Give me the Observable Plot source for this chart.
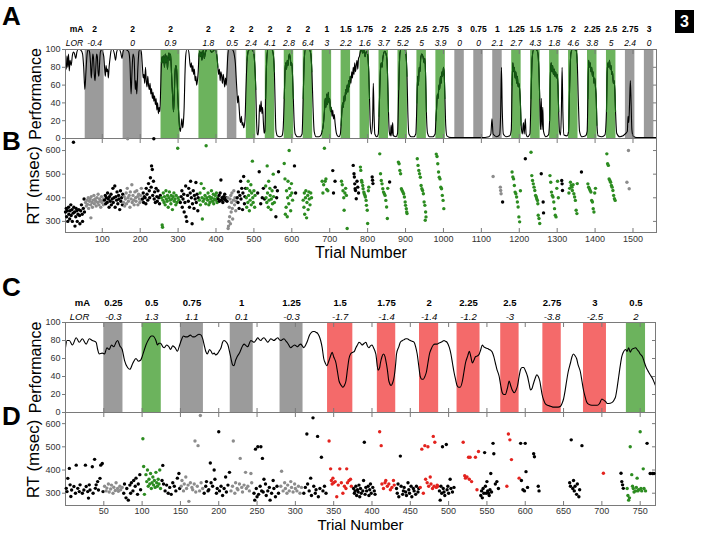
<!DOCTYPE html>
<html><head><meta charset="utf-8">
<script src="https://cdn.jsdelivr.net/npm/d3@7"></script>
<script src="https://cdn.jsdelivr.net/npm/@observablehq/plot@0.6"></script>
<style>
body{margin:0;background:#fff;}
#wrap{position:relative;width:701px;height:535px;overflow:hidden;font-family:"Liberation Sans",Arial,Helvetica,sans-serif;}
.pl{position:absolute;left:0;}
.lab{position:absolute;left:2px;font-weight:bold;font-size:26px;line-height:26px;color:#000;}
#badge{position:absolute;left:675px;top:10px;width:19px;height:23px;background:#000;color:#fff;font-weight:bold;font-size:16px;text-align:center;line-height:23px;}
</style></head><body>
<div id="wrap">
  <div class="pl" id="pA" style="top:0px"></div>
  <div class="pl" id="pB" style="top:138px"></div>
  <div class="pl" id="pC" style="top:275px"></div>
  <div class="pl" id="pD" style="top:412px"></div>
  <div class="lab" style="top:3px">A</div>
  <div class="lab" style="top:128px">B</div>
  <div class="lab" style="top:274px">C</div>
  <div class="lab" style="top:403px">D</div>
  <div id="badge">3</div>
</div>
<script>
// ---------- Experiment 1 (panels A, B) ----------
const blockStartA = [55,155,255,355,430,480,530,580,630,680,730,780,830,880,930,980,1030,1080,1130,1180,1230,1280,1330,1380,1430,1480,1530];
const blockEndA   = [105,205,305,405,455,505,555,605,655,705,755,805,855,905,955,1005,1055,1105,1155,1205,1255,1305,1355,1405,1455,1505,1555];
const blockTypeA  = ["gray","gray","green","green","gray","green","green","green","green","green","green","green","green","green","green","green","gray","gray","gray","green","green","green","green","green","green","gray","gray"];
const mAA  = ["2","2","2","2","2","2","2","2","2","1","1.5","1.75","2","2.25","2.5","2.75","3","0.75","1","1.25","1.5","1.75","2","2.25","2.5","2.75","3"];
const lorA = ["-0.4","0","0.9","1.8","0.5","2.4","4.1","2.8","6.4","3","2.2","1.6","3.7","5.2","5","3.9","0","0","2.1","2.7","4.3","1.8","4.6","3.8","5","2.4","0"];
const xTicksA = [100,200,300,400,500,600,700,800,900,1000,1100,1200,1300,1400,1500];

const perfA = [[3,85],[5,78],[7,93],[9,80],[11,95],[13,76],[15,88],[18,82],[21,93],[24,97],[27,95],[30,90],[33,97],[36,100],[40,100],[44,99],[48,95],[51,80],[54,55],[57,75],[60,95],[63,100],[66,98],[69,85],[71,68],[73,80],[75,95],[77,90],[79,72],[81,65],[83,80],[85,95],[87,92],[89,75],[91,70],[93,85],[95,97],[98,100],[101,97],[104,92],[106,80],[108,70],[110,82],[112,75],[114,78],[116,68],[118,80],[121,92],[124,100],[128,100],[132,95],[135,88],[138,97],[141,100],[145,100],[149,96],[152,90],[155,98],[158,100],[162,100],[166,99],[170,97],[173,85],[176,50],[178,70],[181,95],[184,90],[187,55],[189,65],[191,50],[194,80],[197,98],[200,100],[203,97],[206,80],[208,68],[210,72],[212,62],[214,80],[216,65],[218,58],[220,70],[222,60],[224,55],[226,62],[228,50],[230,56],[232,45],[234,52],[236,42],[238,48],[240,38],[242,45],[244,32],[246,40],[248,28],[250,35],[252,30],[254,55],[256,85],[258,92],[260,85],[262,93],[264,80],[266,95],[268,85],[270,93],[272,78],[274,92],[276,96],[278,88],[280,95],[282,80],[284,60],[286,45],[288,30],[290,50],[292,75],[294,82],[296,78],[298,60],[300,40],[302,25],[304,12],[306,8],[308,15],[310,22],[312,12],[314,18],[316,35],[318,70],[320,92],[323,100],[326,100],[329,95],[331,85],[333,80],[335,85],[337,75],[339,82],[341,72],[343,78],[345,65],[347,70],[349,60],[351,65],[353,75],[355,92],[357,98],[359,92],[361,97],[363,88],[365,97],[367,99],[369,90],[371,94],[373,98],[376,100],[380,100],[384,100],[388,97],[392,98],[396,100],[400,98],[403,90],[405,80],[407,72],[409,78],[411,65],[413,75],[415,70],[417,62],[419,72],[421,66],[423,58],[425,68],[427,60],[429,75],[431,92],[434,100],[438,100],[442,100],[446,98],[449,92],[451,85],[453,70],[455,55],[457,40],[459,48],[461,35],[463,22],[465,18],[467,25],[469,15],[471,18],[473,12],[475,15],[477,25],[479,55],[482,88],[485,98],[489,100],[494,100],[499,97],[502,85],[505,55],[507,20],[509,5],[511,4],[513,15],[515,38],[517,30],[519,42],[521,28],[523,35],[525,18],[527,6],[529,8],[531,45],[534,90],[537,100],[542,100],[547,100],[551,95],[554,75],[556,40],[558,10],[562,3],[568,2],[574,3],[577,10],[580,45],[582,75],[584,85],[586,78],[588,88],[590,82],[592,92],[594,95],[596,90],[598,82],[600,85],[602,70],[604,45],[606,20],[609,5],[615,2],[622,2],[627,5],[630,45],[633,90],[636,100],[641,100],[646,100],[650,95],[653,75],[656,35],[659,8],[664,2],[672,2],[677,4],[680,8],[683,15],[686,30],[688,45],[690,35],[692,50],[694,38],[696,52],[698,40],[700,45],[702,30],[704,35],[706,25],[708,32],[710,22],[712,27],[714,18],[716,10],[719,4],[724,2],[728,5],[730,15],[732,30],[734,40],[736,35],[738,48],[740,42],[742,55],[744,50],[746,60],[748,52],[750,65],[752,58],[754,70],[756,62],[758,75],[760,68],[762,80],[764,72],[766,85],[768,75],[770,82],[772,88],[774,78],[776,90],[778,92],[781,98],[784,100],[787,96],[790,100],[793,92],[796,97],[799,98],[801,90],[803,75],[805,45],[807,15],[810,5],[813,20],[815,62],[817,25],[819,5],[824,2],[828,5],[830,25],[832,55],[834,78],[836,85],[838,80],[840,90],[842,95],[845,98],[848,96],[851,88],[853,65],[855,30],[857,8],[860,3],[862,15],[864,3],[866,18],[868,3],[875,2],[879,6],[882,55],[885,95],[888,100],[893,100],[898,100],[901,95],[904,70],[906,30],[909,5],[915,2],[922,2],[927,5],[930,40],[932,70],[934,60],[936,80],[938,75],[940,90],[943,95],[946,92],[949,85],[951,90],[953,70],[955,30],[958,6],[963,2],[972,2],[978,5],[980,20],[982,35],[984,50],[986,45],[988,60],[990,55],[992,70],[994,62],[996,75],[998,70],[1000,80],[1002,72],[1004,45],[1006,15],[1009,3],[1020,1],[1050,1],[1080,1],[1100,1],[1120,2],[1125,5],[1128,22],[1131,5],[1140,2],[1148,4],[1151,30],[1153,80],[1155,35],[1158,5],[1165,2],[1175,3],[1179,10],[1181,60],[1183,85],[1185,75],[1187,80],[1189,68],[1191,75],[1193,62],[1195,70],[1197,58],[1199,62],[1201,55],[1203,40],[1205,15],[1208,5],[1211,18],[1213,5],[1216,22],[1218,5],[1222,2],[1228,5],[1231,45],[1234,90],[1238,100],[1243,100],[1248,98],[1251,85],[1254,45],[1256,10],[1258,45],[1260,10],[1262,35],[1264,8],[1270,2],[1277,4],[1280,20],[1282,70],[1284,85],[1286,75],[1288,82],[1290,72],[1292,78],[1294,70],[1296,75],[1298,68],[1300,72],[1302,60],[1304,30],[1306,8],[1309,4],[1311,30],[1313,80],[1315,30],[1318,4],[1326,3],[1330,8],[1333,60],[1336,95],[1340,100],[1345,100],[1350,99],[1353,85],[1356,40],[1359,8],[1365,2],[1375,3],[1379,8],[1381,45],[1383,88],[1385,80],[1387,85],[1389,75],[1391,80],[1393,70],[1395,75],[1397,62],[1399,68],[1401,58],[1403,45],[1405,15],[1408,3],[1418,2],[1426,4],[1430,30],[1432,75],[1434,85],[1436,80],[1438,88],[1440,78],[1442,82],[1444,72],[1446,75],[1448,62],[1450,65],[1452,55],[1454,30],[1457,6],[1465,2],[1474,3],[1479,5],[1485,8],[1487,25],[1489,18],[1491,40],[1493,65],[1495,40],[1497,10],[1500,3],[1510,1],[1560,1]];

const rtB = [
[3,340],[5,355],[6,320],[8,345],[9,300],[11,360],[12,330],[14,310],[15,345],[17,370],[18,325],[20,350],[21,300],[23,335],[24,635],[25,360],[27,340],[28,280],[30,320],[31,355],[33,345],[34,300],[36,330],[38,350],[40,325],[41,290],[43,345],[45,370],[47,330],[48,300],[50,355],[52,395],[53,340],
[56,380],[58,365],[60,390],[61,372],[63,400],[64,355],[66,385],[68,395],[69,370],[70,315],[71,405],[73,380],[74,360],[76,390],[78,410],[79,375],[81,395],[83,385],[84,365],[86,400],[88,380],[89,415],[91,370],[93,395],[94,385],[96,360],[98,405],[99,380],[101,390],[103,370],[104,395],
[106,390],[108,410],[109,375],[111,400],[113,380],[114,420],[116,395],[118,360],[119,405],[121,385],[123,415],[124,370],[126,395],[128,440],[129,380],[131,400],[133,450],[134,360],[136,405],[138,390],[139,425],[141,375],[143,410],[144,395],[146,350],[148,430],[149,385],[151,400],[153,370],[154,415],
[156,380],[158,405],[159,365],[161,395],[163,420],[164,375],[166,440],[167,650],[168,400],[169,385],[171,410],[173,360],[174,425],[176,395],[178,455],[179,380],[181,410],[183,390],[184,370],[186,425],[188,400],[189,385],[191,430],[193,405],[194,370],[196,415],[198,395],[199,380],[201,410],[203,440],[204,390],
[206,395],[208,420],[209,380],[211,405],[213,400],[215,375],[216,440],[218,415],[220,390],[222,460],[224,430],[225,400],[227,485],[229,445],[230,535],[232,520],[233,410],[235,470],[236,650],[237,395],[238,425],[240,380],[242,440],[244,405],[245,385],[247,430],[249,400],[251,375],[253,410],
[256,400],[258,285],[259,275],[260,390],[261,420],[263,380],[264,405],[266,370],[268,430],[269,395],[271,385],[272,410],[274,360],[276,400],[277,425],[279,390],[281,375],[282,410],[284,395],[285,350],[287,405],[289,420],[290,385],[292,395],[294,370],[295,410],[297,380],[299,610],[300,400],[302,390],
[306,380],[308,405],[310,430],[311,360],[313,395],[315,415],[316,340],[318,380],[320,450],[321,320],[323,300],[325,410],[327,385],[328,440],[330,360],[332,420],[333,470],[335,400],[337,290],[338,375],[340,430],[342,355],[343,410],[345,395],[347,465],[348,380],[350,415],[352,345],[353,400],
[356,390],[358,420],[359,370],[361,460],[363,400],[364,310],[366,385],[368,440],[369,395],[371,410],[373,375],[374,620],[376,400],[378,390],[379,420],[381,370],[383,405],[384,380],[386,395],[388,430],[389,400],[391,385],[393,415],[394,375],[396,395],[398,410],[399,390],[401,420],[403,380],[404,400],
[406,395],[408,410],[409,385],[411,420],[413,475],[414,390],[416,400],[418,380],[420,405],[421,395],[423,415],[425,390],[427,400],[429,385],
[431,400],[432,270],[433,280],[434,300],[435,360],[436,320],[437,395],[438,290],[439,410],[440,340],[441,380],[442,420],[443,355],[444,310],[446,390],[447,430],[449,370],[450,400],[452,345],[453,385],
[456,400],[458,380],[459,425],[461,355],[463,410],[465,470],[466,395],[468,440],[470,350],[471,420],[473,490],[475,375],[476,405],[478,440],
[480,400],[481,360],[482,440],[484,380],[485,470],[486,410],[488,345],[489,430],[490,390],[492,455],[493,370],[494,420],[496,555],[497,400],[498,380],[500,430],[502,360],[503,410],
[510,420],[514,510],[518,375],[522,400],[525,440],[528,395],
[531,450],[532,400],[534,380],[535,535],[536,420],[538,360],[539,470],[540,390],[542,440],[543,410],[545,350],[546,395],[548,430],[549,375],[551,500],[552,405],[554,380],
[556,445],[558,320],[560,400],[562,430],[565,510],
[580,545],[582,480],[583,330],[585,360],[586,430],[588,320],[589,400],[590,470],[592,375],[593,600],[594,440],[596,410],[597,345],[599,460],[600,420],[602,390],
[607,535],[610,420],
[630,390],[632,360],[633,420],[634,330],[636,400],[637,430],[639,315],[640,380],[642,410],[643,350],[645,425],[646,395],[648,370],[650,420],[652,400],
[680,470],[682,420],[684,455],[686,610],[688,470],[690,480],[692,435],[695,430],
[708,515],[710,420],[714,470],
[731,470],[733,455],[735,430],[737,400],[738,347],[740,420],[742,440],[744,410],[746,270],
[762,537],[764,502],[765,488],[766,459],[767,438],[768,431],[770,396],[772,470],[774,445],[776,420],
[781,530],[782,516],[784,473],[785,466],[787,452],[788,438],[790,424],[791,417],[793,410],[794,403],[796,389],[797,368],[799,347],[800,291],[802,430],[803,445],
[812,488],[813,474],[814,460],
[832,586],[834,502],[836,473],[838,459],[840,438],[842,424],[844,417],[846,410],[848,389],[850,361],[852,312],[853,440],
[858,467],
[881,551],[883,544],[885,516],[887,502],[889,438],[891,431],[893,424],[895,417],[897,403],[899,382],[900,368],[902,354],[903,340],[904,333],
[931,565],[933,537],[935,516],[937,502],[939,487],[941,452],[943,438],[945,431],[947,417],[949,382],[951,368],[952,305],[953,340],[954,319],
[981,585],[983,575],[985,544],[987,509],[989,487],[991,480],[993,445],[995,438],[997,410],[999,389],[1001,354],
[1131,490],[1150,445],[1151,431],[1152,417],[1156,382],
[1181,509],[1183,488],[1185,480],[1187,452],[1189,424],[1191,417],[1193,403],[1195,382],[1197,361],[1199,319],[1201,298],[1203,430],
[1216,565],
[1231,593],[1233,494],[1235,473],[1237,459],[1239,445],[1241,431],[1243,410],[1245,403],[1246,396],[1248,389],[1249,375],[1250,326],[1252,312],[1254,291],
[1258,502],[1263,382],[1264,336],
[1281,494],[1283,466],[1285,424],[1287,410],[1289,403],[1291,382],[1293,354],[1295,326],[1297,319],[1299,440],[1301,470],[1303,400],
[1312,473],[1313,459],[1314,431],
[1331,420],[1333,440],[1335,466],[1337,452],[1339,445],[1340,431],[1342,455],[1344,417],[1346,403],[1348,389],[1350,347],[1352,333],[1353,460],
[1364,509],
[1381,459],[1383,445],[1385,438],[1387,431],[1389,424],[1391,389],[1393,382],[1395,354],[1397,340],[1399,420],[1401,440],
[1431,586],[1433,544],[1435,537],[1437,480],[1439,473],[1441,466],[1443,452],[1445,445],[1447,431],[1449,410],[1451,396],[1453,389],
[1484,466],[1488,600],[1490,438]
];

// ---------- Experiment 2 (panels C, D) ----------
const blockStartC = [50,100,150,215,280,342,407,462,511,568,623,676,732];
const blockEndC   = [75,125,180,245,310,375,431,487,541,592,647,706,757];
const blockTypeC  = ["gray","green","gray","gray","gray","red","red","red","red","red","red","red","green"];
const mAC  = ["0.25","0.5","0.75","1","1.25","1.5","1.75","2","2.25","2.5","2.75","3","0.5"];
const lorC = ["-0.3","1.3","1.1","0.1","-0.3","-1.7","-1.4","-1.4","-1.2","-3","-3.8","-2.5","2"];
const xTicksC = [50,100,150,200,250,300,350,400,450,500,550,600,650,700,750];

const perfC = [[0,72],[2,80],[5,80],[9,75],[14,83],[18,78],[22,82],[27,76],[31,82],[35,80],[40,78],[42,70],[44,65],[48,66],[51,65],[54,72],[57,70],[60,75],[63,73],[66,78],[68,80],[71,74],[74,70],[77,58],[81,50],[84,48],[88,55],[92,60],[95,57],[98,58],[100,62],[103,70],[105,75],[109,82],[112,85],[114,85],[118,80],[120,75],[122,77],[124,77],[127,73],[129,72],[132,75],[135,73],[137,70],[140,74],[143,72],[146,68],[149,75],[151,80],[154,85],[157,84],[159,84],[163,86],[166,84],[168,84],[172,86],[174,87],[177,86],[179,82],[181,75],[183,68],[185,65],[188,70],[190,68],[192,65],[194,66],[196,64],[198,65],[201,69],[203,72],[205,78],[207,80],[210,78],[212,75],[214,68],[216,60],[218,53],[220,52],[222,58],[224,62],[227,66],[229,70],[231,74],[233,76],[236,74],[238,73],[240,77],[242,80],[244,79],[246,78],[249,81],[251,83],[253,81],[255,80],[257,82],[259,83],[262,80],[264,78],[266,80],[268,82],[270,81],[272,80],[275,82],[277,83],[279,81],[281,80],[283,81],[285,82],[288,79],[290,77],[292,74],[294,72],[297,74],[299,75],[301,74],[303,73],[305,75],[307,76],[309,74],[311,72],[314,76],[316,80],[318,85],[320,88],[323,90],[325,90],[327,89],[329,88],[331,85],[333,80],[335,72],[337,60],[339,55],[341,52],[344,58],[346,63],[348,67],[350,62],[353,55],[355,45],[357,35],[360,30],[362,28],[364,30],[366,35],[368,48],[370,60],[372,65],[375,67],[377,68],[379,72],[381,75],[383,78],[385,77],[387,75],[390,77],[392,78],[394,74],[396,72],[398,74],[400,75],[402,72],[405,65],[408,47],[410,50],[411,55],[413,62],[415,65],[417,62],[418,58],[420,48],[422,35],[425,30],[427,33],[429,40],[431,55],[432,65],[435,73],[437,78],[440,80],[442,81],[444,82],[446,82],[448,81],[450,80],[453,79],[455,78],[457,73],[459,65],[461,52],[463,40],[465,37],[467,37],[469,40],[471,45],[473,55],[475,65],[477,70],[480,75],[482,76],[485,76],[487,77],[490,78],[492,79],[494,80],[496,79],[498,78],[501,72],[503,65],[505,55],[507,45],[509,37],[511,30],[513,28],[515,28],[518,35],[520,45],[522,55],[525,63],[527,68],[529,62],[531,55],[533,58],[535,62],[538,63],[540,65],[542,70],[544,75],[546,73],[548,72],[551,71],[553,70],[555,69],[557,67],[559,62],[561,55],[563,48],[566,40],[568,30],[570,22],[572,20],[574,20],[577,28],[579,35],[581,30],[583,25],[586,22],[588,25],[590,30],[592,40],[594,48],[596,50],[598,50],[600,47],[603,40],[605,32],[607,25],[609,27],[610,30],[613,38],[615,42],[617,40],[619,35],[621,25],[622,20],[624,14],[626,10],[629,8],[633,7],[636,6],[639,6],[643,6],[646,7],[648,10],[650,15],[652,24],[654,35],[656,45],[659,55],[661,62],[663,65],[665,63],[667,60],[669,53],[672,45],[674,35],[676,25],[678,18],[680,12],[683,9],[687,8],[690,8],[694,8],[697,10],[700,15],[702,14],[705,12],[707,10],[709,10],[713,11],[716,14],[718,18],[720,28],[722,40],[724,52],[726,62],[728,67],[731,70],[733,68],[735,72],[737,67],[739,70],[741,71],[744,72],[746,70],[748,68],[750,65],[753,62],[755,57],[757,52],[759,48],[761,45],[763,42],[766,38],[768,34],[770,30]];

const rtD = [
[1,321],[2,307],[3,364],[5,407],[6,336],[7,286],[8,314],[11,329],[13,300],[14,421],[16,321],[18,307],[19,336],[22,300],[24,314],[26,421],[27,329],[29,307],[30,279],[31,336],[32,314],[35,414],[36,300],[38,446],[39,321],[40,336],[42,350],[43,314],[45,364],[46,421],[48,428],[49,307],
[51,330],[53,310],[54,322],[56,340],[57,305],[59,318],[60,335],[62,300],[63,326],[65,312],[66,345],[68,320],[69,308],[71,330],[72,315],[74,325],
[76,300],[77,340],[79,280],[80,320],[82,270],[84,335],[85,300],[86,345],[88,310],[89,355],[91,330],[92,365],[94,295],[95,340],[97,380],[98,315],
[101,535],[102,415],[103,295],[105,380],[106,350],[107,400],[108,330],[109,360],[110,340],[111,385],[112,320],[113,345],[114,370],[115,335],[116,355],[117,325],[118,390],[119,345],[120,330],[121,360],[122,340],[123,400],[124,320],
[126,355],[127,420],[128,340],[130,310],[132,335],[134,300],[136,325],[138,295],[140,345],[142,330],[144,310],[146,365],[148,385],[149,320],
[151,330],[152,355],[154,310],[155,340],[157,370],[158,320],[160,335],[161,265],[163,345],[165,325],[166,315],[168,340],[169,525],[170,305],[172,330],[173,505],[175,310],[176,635],[177,345],[179,320],
[181,300],[183,330],[184,350],[186,310],[187,315],[189,430],[190,345],[192,330],[194,400],[195,360],[197,300],[198,320],[200,565],[201,310],[203,330],[205,290],[207,320],[209,370],[210,305],[212,335],[214,390],
[216,310],[218,330],[219,525],[221,300],[222,345],[224,320],[225,315],[227,340],[228,450],[230,325],[231,305],[233,335],[235,390],[236,320],[238,330],[240,310],[242,385],[243,345],
[246,300],[247,270],[248,490],[249,320],[250,285],[251,500],[252,295],[254,330],[255,500],[256,310],[257,450],[258,305],[259,360],[261,340],[262,290],[264,310],[266,325],[267,270],[269,300],[271,355],[272,320],[274,285],[276,330],[278,300],
[281,330],[282,395],[284,310],[286,345],[287,320],[289,300],[290,335],[292,310],[294,350],[295,325],[297,305],[299,340],[300,320],[302,310],[304,330],[306,300],[308,325],
[311,300],[313,325],[315,555],[316,340],[318,310],[320,365],[321,290],[323,625],[324,330],[326,300],[327,315],[329,545],[330,285],[332,320],[334,455],[336,310],[338,330],[340,300],
[344,525],[346,405],[347,355],[348,340],[349,365],[350,345],[352,350],[354,285],[356,335],[358,405],[360,345],[362,300],[364,330],[366,320],[367,405],[368,345],[370,355],[372,360],[373,330],
[376,320],[377,300],[378,310],[379,330],[380,290],[381,315],[382,305],[383,335],[384,285],[385,320],[386,300],[388,310],[389,355],[390,520],[391,295],[392,325],[393,310],[395,330],[396,290],[397,315],[398,340],[399,300],[401,325],[403,310],[404,295],
[410,565],[412,505],[413,340],[415,320],[417,345],[418,355],[420,330],[422,340],[424,315],[426,325],[428,355],[429,335],
[432,320],[433,300],[434,340],[435,285],[437,460],[438,330],[440,295],[441,310],[442,325],[444,305],[445,290],[447,345],[448,315],[449,300],[451,330],[452,285],[454,320],[455,310],[457,295],[458,330],[460,305],[461,320],
[463,325],[465,490],[467,300],[469,505],[470,360],[472,345],[473,500],[474,330],[476,370],[477,340],[479,320],[480,545],[481,330],[482,520],[484,325],[485,335],[486,330],
[488,310],[489,270],[490,330],[491,300],[492,500],[493,320],[494,305],[495,290],[497,510],[498,315],[499,330],[500,300],[502,360],[503,320],[505,305],[507,325],
[519,520],[521,375],[522,365],[524,370],[526,455],[527,360],[528,455],[530,350],[535,455],[537,315],[539,480],
[542,290],[543,310],[544,280],[545,320],[546,300],[547,475],[548,330],[549,300],[550,350],[551,310],[552,300],[553,290],[554,315],[555,385],[556,305],[558,515],[559,470],[561,340],[563,350],[565,320],
[576,330],[578,555],[580,530],[582,445],
[592,365],[594,515],[595,355],[597,315],[599,310],[600,515],[601,393],[603,325],[611,470],[612,457],[617,330],[618,310],
[658,345],[659,330],[660,530],[662,320],[663,355],[664,310],[665,330],[667,295],[668,340],[670,285],[671,315],[674,505],
[702,386],
[725,386],[726,350],[727,336],[728,321],
[733,320],[734,290],[735,270],[736,280],[737,500],[739,380],[740,330],[741,320],[742,305],[744,310],[745,325],[746,365],[747,310],[748,315],[750,565],[751,320],[752,310],[754,405],[755,320],
[757,310],[759,515],[763,385],[766,385],[768,385]
];

// ---------- helpers ----------
const FONT = '"Liberation Sans", Arial, Helvetica, sans-serif';
const fillOf = {gray:"#9b9b9b", green:"#6cb35d", red:"#f46a6a"};
const dotOf = {gray:"#8c8c8c", green:"#2c8c20", red:"#e3231e"};
const AX = "#7a7a7a";
const plain = d => String(d);

function makeBlocks(starts, ends, types, ma, lor) {
  return starts.map((s, i) => ({x1: s, x2: ends[i], type: types[i], mid: (s + ends[i]) / 2, ma: ma[i], lor: lor[i]}));
}
function typeAt(blocks, t) {
  const b = blocks.find(b => t >= b.x1 && t <= b.x2);
  return b ? b.type : null;
}
const styleObj = {background: "transparent", fontFamily: FONT, fontSize: "9px", color: "#333", overflow: "visible"};

function edgeTicks(ticks) {
  return [
    Plot.axisX({anchor: "top", ticks, tickSize: -4, tickFormat: () => "", stroke: AX, label: null}),
    Plot.axisX({anchor: "bottom", ticks, tickSize: -4, tickFormat: () => "", stroke: AX, label: null})
  ];
}
function yAxes(ticks) {
  return [
    Plot.axisY({anchor: "left", ticks, tickSize: 3, tickPadding: 2, stroke: AX, label: null, fontSize: 9, tickFormat: plain}),
    Plot.axisY({anchor: "right", ticks, tickSize: -4, tickFormat: () => "", stroke: AX, label: null})
  ];
}

function perfPlot({blocks, perf, xDomain, xTicks, marginRight, height, marginTop, dyMa, dyLor, mAdx, lorDx, hdrSize, greenLine}) {
  const marks = [
    Plot.rect(blocks, {x1: "x1", x2: "x2", fill: d => fillOf[d.type]}),
    Plot.line(perf, {x: d => d[0], y: d => d[1], stroke: "#000", strokeWidth: 1.1, curve: "monotone-x"})
  ];
  if (greenLine) {
    marks.push(Plot.line(perf, {x: d => d[0], y: d => typeAt(blocks, d[0]) === "green" ? d[1] : NaN, stroke: "#135b12", strokeWidth: 1.1, curve: "monotone-x"}));
  }
  marks.push(
    Plot.frame({stroke: AX}),
    ...yAxes([0, 20, 40, 60, 80, 100]),
    ...edgeTicks(xTicks),
    Plot.text(blocks, {x: "mid", text: "ma", frameAnchor: "top", dy: dyMa, fontWeight: "bold", fontSize: hdrSize, fill: "#000"}),
    Plot.text(blocks, {x: "mid", text: "lor", frameAnchor: "top", dy: dyLor, fontStyle: "italic", fontSize: hdrSize, fill: "#000"}),
    Plot.text(["mA"], {text: d => d, frameAnchor: "top-left", dx: mAdx, dy: dyMa, textAnchor: "middle", fontWeight: "bold", fontSize: hdrSize, fill: "#000"}),
    Plot.text(["LOR"], {text: d => d, frameAnchor: "top-left", dx: lorDx, dy: dyLor, textAnchor: "middle", fontStyle: "italic", fontSize: hdrSize, fill: "#000"}),
    Plot.text(["Performance"], {text: d => d, frameAnchor: "left", dx: -30, rotate: -90, textAnchor: "middle", fontSize: 16, fill: "#000"})
  );
  return Plot.plot({
    width: 701, height, marginLeft: 65, marginRight, marginTop, marginBottom: 2,
    x: {domain: xDomain}, y: {domain: [0, 100]}, color: {type: "identity"},
    style: styleObj, marks
  });
}

function rtPlot({blocks, rt, xDomain, yDomain, xTicks, marginRight, height, marginBottom, labelDy, labelSize, tickPad}) {
  return Plot.plot({
    width: 701, height, marginLeft: 65, marginRight, marginTop: 0, marginBottom,
    x: {domain: xDomain}, y: {domain: yDomain}, color: {type: "identity"},
    style: styleObj,
    marks: [
      Plot.frame({stroke: AX}),
      Plot.dot(rt, {x: d => d[0], y: d => d[1], r: 1.7, stroke: null, fill: d => { const t = typeAt(blocks, d[0]); return t ? dotOf[t] : "#000"; }}),
      ...yAxes([300, 400, 500, 600]),
      ...edgeTicks(xTicks),
      Plot.axisX({anchor: "bottom", ticks: xTicks, tickSize: 0, tickPadding: tickPad, label: null, fontSize: 9, tickFormat: plain}),
      Plot.text(["RT (msec)"], {text: d => d, frameAnchor: "left", dx: -32, rotate: -90, textAnchor: "middle", fontSize: 17, fill: "#000"}),
      Plot.text(["Trial Number"], {text: d => d, frameAnchor: "bottom", dy: labelDy, textAnchor: "middle", fontSize: labelSize, fill: "#000"})
    ]
  });
}

const blocksA = makeBlocks(blockStartA, blockEndA, blockTypeA, mAA, lorA);
const blocksC = makeBlocks(blockStartC, blockEndC, blockTypeC, mAC, lorC);

document.getElementById("pA").append(perfPlot({blocks: blocksA, perf: perfA, xDomain: [3, 1562], xTicks: xTicksA, marginRight: 45, height: 140, marginTop: 49, dyMa: -24, dyLor: -10, mAdx: 11, lorDx: 9, hdrSize: 8.5, greenLine: true}));
document.getElementById("pB").append(rtPlot({blocks: blocksA, rt: rtB, xDomain: [3, 1562], yDomain: [253, 651], xTicks: xTicksA, marginRight: 45, height: 132, marginBottom: 38, labelDy: 25, labelSize: 16, tickPad: 3}));
document.getElementById("pC").append(perfPlot({blocks: blocksC, perf: perfC, xDomain: [0, 770], xTicks: xTicksC, marginRight: 46, height: 139, marginTop: 47, dyMa: -23, dyLor: -9, mAdx: 17, lorDx: 14, hdrSize: 9.5, greenLine: false}));
document.getElementById("pD").append(rtPlot({blocks: blocksC, rt: rtD, xDomain: [0, 770], yDomain: [247, 648], xTicks: xTicksC, marginRight: 46, height: 123, marginBottom: 30, labelDy: 24.5, labelSize: 15, tickPad: 2}));
</script>
</body></html>
